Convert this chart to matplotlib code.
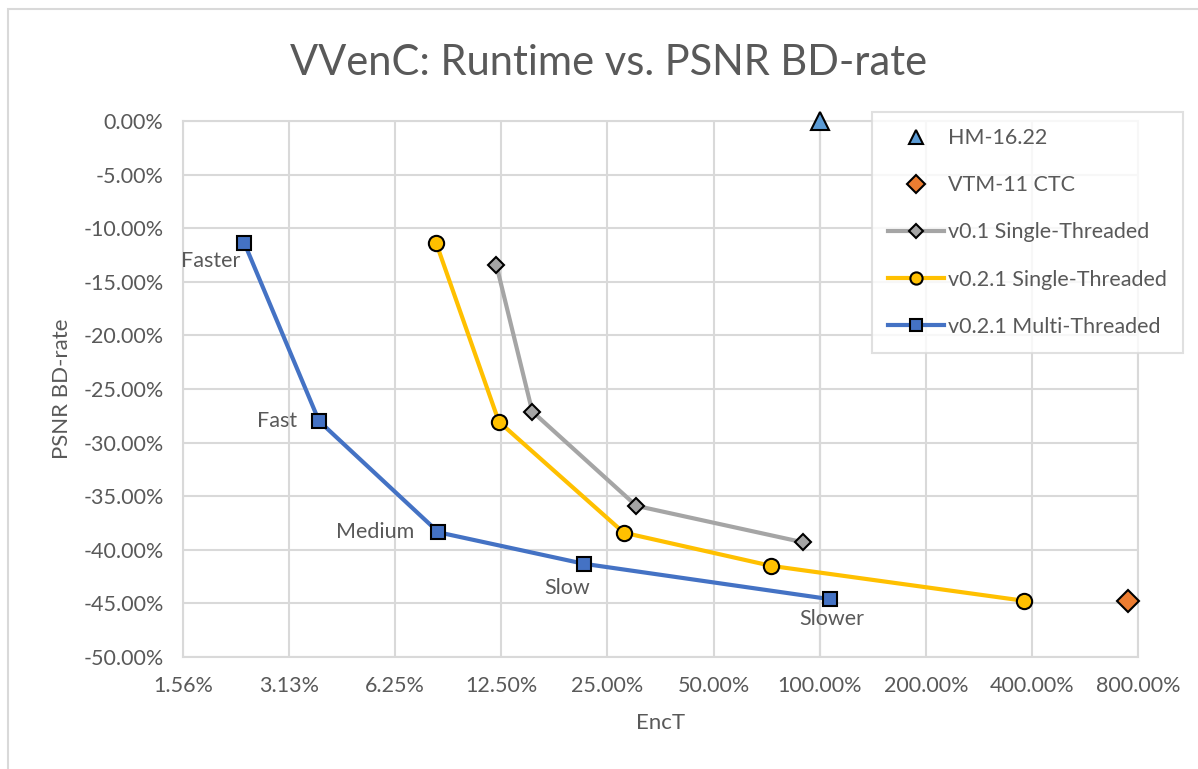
import matplotlib.pyplot as plt
import matplotlib.ticker as mticker
from matplotlib.patches import Rectangle

# data (EncT in %, BD-rate in %)
hm_x = [100.0]
hm_y = [0.0]
vtm_x = [749.0]
vtm_y = [-44.75]
v01_x = [12.1, 15.3, 30.2, 89.7]
v01_y = [-13.43, -27.1, -35.9, -39.3]
v021s_x = [8.17, 12.3, 27.8, 72.9, 379.0]
v021s_y = [-11.4, -28.05, -38.4, -41.5, -44.75]
v021m_x = [2.33, 3.80, 8.29, 21.4, 106.7]
v021m_y = [-11.35, -27.99, -38.37, -41.3, -44.6]
presets = ['Faster', 'Fast', 'Medium', 'Slow', 'Slower']

x_ticks = [1.5625, 3.125, 6.25, 12.5, 25, 50, 100, 200, 400, 800]
x_labels = ['1.56%', '3.13%', '6.25%', '12.50%', '25.00%', '50.00%',
            '100.00%', '200.00%', '400.00%', '800.00%']
y_ticks = [0, -5, -10, -15, -20, -25, -30, -35, -40, -45, -50]

plt.rcParams['font.family'] = ['Lato', 'DejaVu Sans']
txt = '#595959'

fig = plt.figure(figsize=(11.98, 7.69), dpi=100)
ax = fig.add_axes([183/1198, 1 - 657/769, (1138-183)/1198, (657-121)/769])

ax.set_xscale('log', base=2)
ax.set_xlim(1.5625, 800)
ax.set_ylim(-50, 0)

ax.plot(v01_x, v01_y, color='#A5A5A5', lw=3, marker='D', ms=8.5,
        mfc='#A5A5A5', mec='black', mew=1.5, label='v0.1 Single-Threaded', zorder=4)
ax.plot(v021s_x, v021s_y, color='#FFC000', lw=3, marker='o', ms=11,
        mfc='#FFC000', mec='black', mew=1.5, label='v0.2.1 Single-Threaded', zorder=4)
ax.plot(v021m_x, v021m_y, color='#4472C4', lw=3, marker='s', ms=10,
        mfc='#4472C4', mec='black', mew=1.5, label='v0.2.1 Multi-Threaded', zorder=5)
ax.plot(hm_x, hm_y, ls='none', marker='^', ms=13, mfc='#5B9BD5', mec='black',
        mew=1.5, label='HM-16.22', zorder=6, clip_on=False)
ax.plot(vtm_x, vtm_y, ls='none', marker='D', ms=11, mfc='#ED7D31', mec='black',
        mew=1.5, label='VTM-11 CTC', zorder=6, clip_on=False)

# preset labels
offsets = [(-4, -8, 'right', 'top'), (-22, 0, 'right', 'center'),
           (-24, 0, 'right', 'center'), (-16, -14, 'center', 'top'),
           (2, -10, 'center', 'top')]
for name, x, y, (dx, dy, ha, va) in zip(presets, v021m_x, v021m_y, offsets):
    ax.annotate(name, (x, y), xytext=(dx, dy), textcoords='offset pixels',
                ha=ha, va=va, fontsize=15.5, color=txt)

ax.set_xticks(x_ticks)
ax.set_xticklabels(x_labels)
ax.xaxis.set_minor_locator(mticker.NullLocator())
ax.set_yticks(y_ticks)
ax.yaxis.set_major_formatter(mticker.FuncFormatter(lambda v, p: f'{v:.2f}%'))
ax.tick_params(length=0, labelsize=15.5, colors=txt, pad=14)
ax.tick_params(axis='y', pad=14)

ax.grid(True, color='#d9d9d9', lw=1.5)
ax.axvline(100, color='#bfbfbf', lw=1.5, zorder=1)
for s in ax.spines.values():
    s.set_color('#d9d9d9')
    s.set_linewidth(1.5)

ax.set_xlabel('EncT', fontsize=16, color=txt, labelpad=12)
ax.set_ylabel('PSNR BD-rate', fontsize=16, color=txt, labelpad=8)
fig.text(609/1198, 1 - 63/769, 'VVenC: Runtime vs. PSNR BD-rate', fontsize=30,
         color=txt, ha='center', va='center')

h, l = ax.get_legend_handles_labels()
order = [3, 4, 0, 1, 2]
leg = fig.legend([h[i] for i in order], [l[i] for i in order],
                 loc='upper left', bbox_to_anchor=(872/1198, 1 - 112/769),
                 fontsize=15.5, frameon=True, fancybox=False, borderpad=0.75,
                 labelspacing=1.26, handlelength=2.6, handletextpad=0.2,
                 borderaxespad=0, markerscale=0.8)
leg.get_frame().set_edgecolor('#d9d9d9')
leg.get_frame().set_linewidth(1.5)
for t in leg.get_texts():
    t.set_color(txt)

# chart area border (only top and left visible)
fig.patches.append(Rectangle((8/1198, -0.2), 1.2, 1.2 - 9/769, transform=fig.transFigure,
                             fill=False, ec='#d9d9d9', lw=1.5))

fig.savefig('out.png', dpi=100)
